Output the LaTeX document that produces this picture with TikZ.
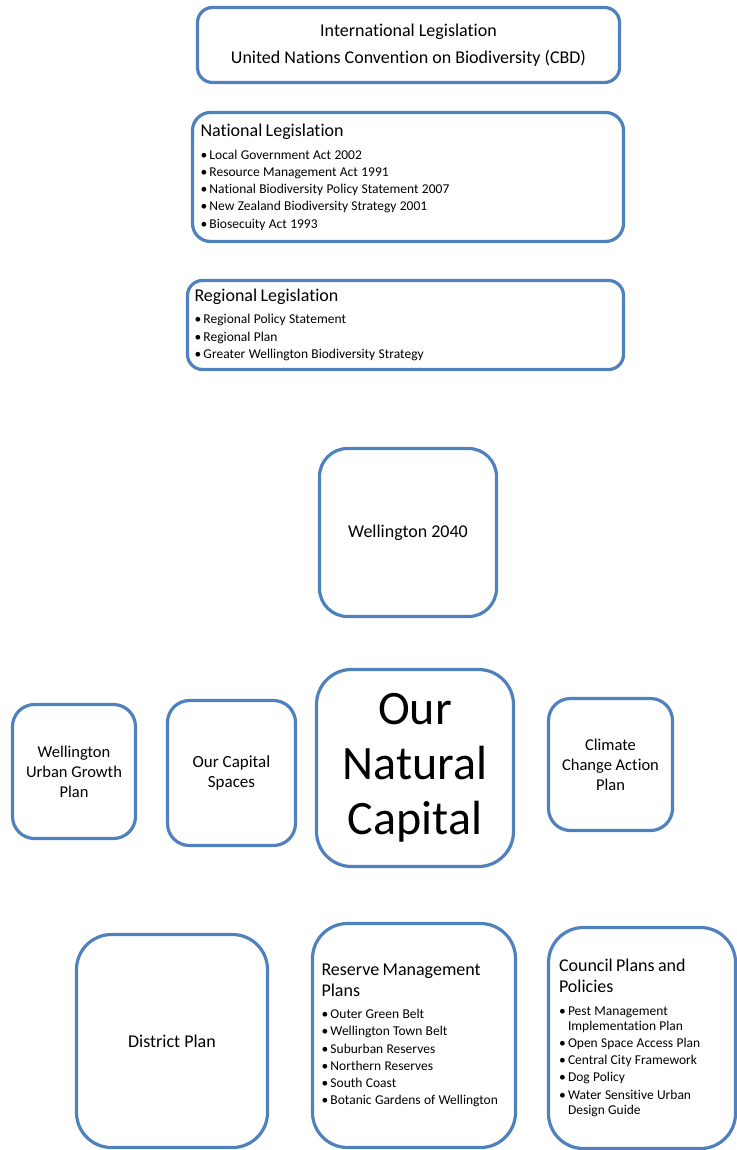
\documentclass[tikz,border=0pt]{standalone}
\usepackage{fontspec}
\setmainfont{Carlito}[Ligatures={NoCommon}]
\usepackage{tikz}
\definecolor{planblue}{RGB}{79,129,189}
\tikzstyle{plan} = [rectangle,draw=planblue,line width=3.2pt,fill=white,inner sep=0pt,align=center]
\tikzstyle{listplan} = [plan,align=left]
\newcommand{\itm}{\makebox[9pt][l]{\textbullet}}
\newcommand{\ind}{\hspace*{9pt}}
\newcommand{\ttl}{\fontsize{18}{21}\selectfont}
\newcommand{\lst}{\fontsize{13.5}{17.2}\selectfont}

\begin{document}
\begin{tikzpicture}[x=1pt,y=-1pt]
 	\useasboundingbox (0,0) rectangle (736,1150);

 	%Legislation
 	\node (intl) [plan,rounded corners=15pt,minimum width=422,minimum height=75,
 		font=\fontsize{18}{27}\selectfont] at (408.5,45)
 		{International Legislation\\United Nations Convention on Biodiversity (CBD)};
 	\node (natl) [listplan,rounded corners=18pt,minimum width=431,minimum height=129,text width=415] at (408,177)
 		{{\ttl National Legislation\par}\vspace{6pt}
 		{\lst\itm Local Government Act 2002\par
 		\itm Resource Management Act 1991\par
 		\itm National Biodiversity Policy Statement 2007\par
 		\itm New Zealand Biodiversity Strategy 2001\par
 		\itm Biosecuity Act 1993\par}};
 	\node (regl) [listplan,rounded corners=15pt,minimum width=436,minimum height=89,text width=422] at (405.5,325)
 		{{\ttl Regional Legislation\par}\vspace{5pt}
 		{\lst\itm Regional Policy Statement\par
 		\itm Regional Plan\par
 		\itm Greater Wellington Biodiversity Strategy\par}};

 	%Council
 	\node (w2040) [plan,rounded corners=28pt,minimum width=177,minimum height=168,
 		font=\fontsize{18}{21}\selectfont] at (408,532.5) {Wellington 2040};
 	\node (onc) [plan,rounded corners=35pt,minimum width=197,minimum height=197,
 		font=\fontsize{48}{55}\selectfont] at (415,768) {Our\\Natural\\Capital};
 	\node (wugp) [plan,rounded corners=22pt,minimum width=123,minimum height=134,
 		font=\fontsize{16.5}{20}\selectfont] at (74,771.5) {Wellington\\Urban Growth\\Plan};
 	\node (ocs) [plan,rounded corners=22pt,minimum width=128,minimum height=145,
 		font=\fontsize{17}{20}\selectfont] at (231.5,773) {Our Capital\\Spaces};
 	\node (ccap) [plan,rounded corners=22pt,minimum width=124,minimum height=132,
 		font=\fontsize{16.5}{20}\selectfont] at (610.5,764.5) {Climate\\Change Action\\Plan};

 	%Plans
 	\node (dp) [plan,rounded corners=35pt,minimum width=191,minimum height=213,
 		font=\fontsize{18}{21}\selectfont] at (172,1041) {District Plan};
 	\node (rmp) [listplan,rounded corners=35pt,minimum width=203,minimum height=224,text width=185] at (414,1035.5)
 		{{\ttl Reserve Management\par Plans\par}\vspace{5pt}
 		{\lst\itm Outer Green Belt\par
 		\itm Wellington Town Belt\par
 		\itm Suburban Reserves\par
 		\itm Northern Reserves\par
 		\itm South Coast\par
 		\itm Botanic Gardens of Wellington\par}};
 	\node (cpp) [listplan,rounded corners=35pt,minimum width=187,minimum height=221,text width=166] at (642,1038)
 		{{\ttl Council Plans and\par Policies\par}\vspace{5pt}
 		{\lst\itm Pest Management\par\vspace{-2pt}
 		\ind Implementation Plan\par
 		\itm Open Space Access Plan\par
 		\itm Central City Framework\par
 		\itm Dog Policy\par
 		\itm Water Sensitive Urban\par\vspace{-2pt}
 		\ind Design Guide\par}};
\end{tikzpicture}
\end{document}
